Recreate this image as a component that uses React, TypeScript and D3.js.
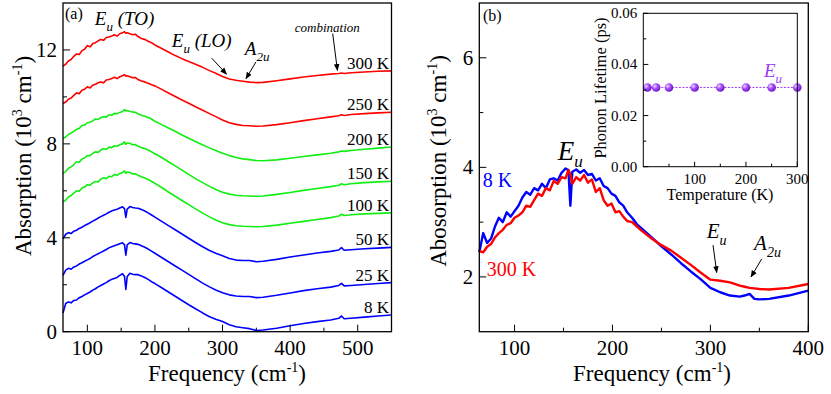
import React from 'react';
import * as d3 from 'd3';

// ---- panel (a): stacked spectra, absorption in 10^3 cm^-1 ----
const FREQ_A = [64, 68, 72, 76, 80, 84, 88, 92, 96, 100,
  104, 108, 112, 116, 120, 124, 128, 132, 136, 140,
  144, 148, 152, 155, 157, 159, 163, 167, 171, 175,
  180, 185, 190, 195, 200, 210, 220, 230, 240, 250,
  260, 270, 280, 290, 300, 310, 320, 330, 340, 350,
  360, 380, 400, 420, 440, 460, 472, 476, 480, 490,
  510, 530, 550];

const A_8K = [0.80, 1.20, 1.27, 1.23, 1.33, 1.35, 1.45, 1.50, 1.57, 1.63,
  1.69, 1.77, 1.83, 1.91, 1.97, 2.03, 2.09, 2.17, 2.23, 2.27,
  2.31, 2.40, 2.47, 2.35, 1.80, 2.35, 2.49, 2.45, 2.43, 2.43,
  2.37, 2.31, 2.23, 2.13, 2.05, 1.87, 1.69, 1.51, 1.33, 1.15,
  0.98, 0.81, 0.65, 0.53, 0.43, 0.30, 0.21, 0.17, 0.13, 0.05,
  0.07, 0.15, 0.25, 0.35, 0.43, 0.50, 0.57, 0.67, 0.55, 0.57,
  0.62, 0.67, 0.71];
const A_25K = [2.40, 2.62, 2.70, 2.66, 2.76, 2.80, 2.88, 2.94, 3.00, 3.06,
  3.12, 3.20, 3.26, 3.32, 3.38, 3.44, 3.50, 3.57, 3.62, 3.66,
  3.70, 3.75, 3.79, 3.70, 3.26, 3.70, 3.80, 3.76, 3.74, 3.72,
  3.66, 3.60, 3.52, 3.43, 3.34, 3.16, 2.98, 2.80, 2.62, 2.44,
  2.26, 2.08, 1.92, 1.78, 1.66, 1.57, 1.52, 1.50, 1.50, 1.45,
  1.47, 1.55, 1.65, 1.75, 1.83, 1.90, 1.97, 2.06, 1.95, 1.97,
  2.01, 2.05, 2.09];
const A_50K = [3.95, 4.15, 4.22, 4.18, 4.28, 4.32, 4.40, 4.45, 4.52, 4.58,
  4.64, 4.71, 4.77, 4.84, 4.90, 4.96, 5.02, 5.09, 5.14, 5.18,
  5.22, 5.27, 5.32, 5.24, 4.87, 5.22, 5.33, 5.29, 5.27, 5.26,
  5.20, 5.14, 5.06, 4.97, 4.88, 4.70, 4.52, 4.34, 4.16, 3.98,
  3.80, 3.63, 3.47, 3.34, 3.23, 3.12, 3.05, 3.03, 3.03, 2.98,
  3.00, 3.08, 3.18, 3.27, 3.35, 3.42, 3.48, 3.58, 3.47, 3.49,
  3.53, 3.56, 3.59];
const A_100K = [5.53, 5.60, 5.74, 5.80, 5.90, 6.00, 5.98, 6.12, 6.16, 6.26,
  6.24, 6.34, 6.40, 6.38, 6.50, 6.56, 6.52, 6.62, 6.60, 6.70,
  6.66, 6.74, 6.78, 6.85, 6.74, 6.80, 6.78, 6.72, 6.73, 6.66,
  6.60, 6.55, 6.48, 6.40, 6.32, 6.14, 5.95, 5.77, 5.59, 5.41,
  5.23, 5.06, 4.90, 4.76, 4.64, 4.56, 4.51, 4.49, 4.48, 4.47,
  4.48, 4.54, 4.62, 4.70, 4.78, 4.86, 4.93, 5.00, 4.95, 4.98,
  5.02, 5.04, 5.06];
const A_150K = [6.74, 6.82, 6.96, 7.02, 7.12, 7.24, 7.22, 7.36, 7.40, 7.50,
  7.50, 7.60, 7.66, 7.64, 7.74, 7.80, 7.76, 7.86, 7.84, 7.92,
  7.90, 7.96, 8.00, 8.09, 7.98, 8.04, 8.02, 7.96, 7.97, 7.90,
  7.84, 7.80, 7.74, 7.66, 7.58, 7.42, 7.24, 7.06, 6.88, 6.70,
  6.52, 6.36, 6.20, 6.06, 5.94, 5.86, 5.81, 5.79, 5.78, 5.77,
  5.78, 5.85, 5.93, 6.02, 6.10, 6.18, 6.24, 6.30, 6.26, 6.30,
  6.35, 6.38, 6.41];
const A_200K = [8.22, 8.30, 8.40, 8.46, 8.53, 8.62, 8.66, 8.78, 8.80, 8.90,
  8.92, 8.98, 9.06, 9.04, 9.12, 9.16, 9.14, 9.24, 9.22, 9.30,
  9.28, 9.34, 9.38, 9.46, 9.40, 9.42, 9.38, 9.36, 9.34, 9.28,
  9.22, 9.18, 9.12, 9.06, 8.96, 8.82, 8.68, 8.54, 8.38, 8.24,
  8.10, 7.96, 7.84, 7.72, 7.60, 7.50, 7.42, 7.36, 7.33, 7.29,
  7.28, 7.32, 7.39, 7.46, 7.53, 7.60, 7.66, 7.70, 7.68, 7.72,
  7.77, 7.82, 7.87];
const A_250K = [9.72, 9.78, 9.90, 9.95, 10.07, 10.17, 10.14, 10.28, 10.33, 10.43,
  10.38, 10.50, 10.54, 10.60, 10.64, 10.60, 10.72, 10.74, 10.78, 10.84,
  10.78, 10.86, 10.90, 10.95, 10.88, 10.90, 10.86, 10.82, 10.83, 10.74,
  10.68, 10.64, 10.58, 10.52, 10.47, 10.32, 10.17, 10.02, 9.87, 9.73,
  9.58, 9.44, 9.30, 9.16, 9.02, 8.90, 8.83, 8.78, 8.77, 8.75,
  8.76, 8.82, 8.90, 8.99, 9.07, 9.15, 9.20, 9.24, 9.21, 9.25,
  9.29, 9.32, 9.35];
const A_300K = [11.31, 11.39, 11.53, 11.59, 11.73, 11.83, 11.81, 11.97, 12.03, 12.19,
  12.13, 12.27, 12.31, 12.39, 12.45, 12.41, 12.53, 12.55, 12.59, 12.65,
  12.59, 12.69, 12.73, 12.78, 12.71, 12.73, 12.69, 12.65, 12.67, 12.57,
  12.49, 12.45, 12.37, 12.31, 12.21, 12.06, 11.91, 11.76, 11.63, 11.51,
  11.39, 11.27, 11.13, 11.01, 10.87, 10.76, 10.71, 10.67, 10.63, 10.61,
  10.62, 10.69, 10.77, 10.85, 10.91, 10.97, 11.00, 11.02, 11.00, 11.03,
  11.06, 11.09, 11.11];

const TEMP_LABELS_A = ['8 K', '25 K', '50 K', '100 K', '150 K', '200 K', '250 K', '300 K'];
const SERIES_A = [A_8K, A_25K, A_50K, A_100K, A_150K, A_200K, A_250K, A_300K];
const COLORS_A = ['#0000ff', '#0000ff', '#0000ff', '#11ee11', '#11ee11', '#11ee11', '#ff0000', '#ff0000'];

// ---- panel (b): 8 K vs 300 K ----
const FREQ_B = [64, 68, 72, 76, 80, 84, 88, 92, 96, 100,
  104, 108, 112, 116, 120, 124, 128, 132, 136, 140,
  144, 148, 152, 155, 157, 159, 163, 167, 171, 175,
  179, 183, 187, 191, 195, 199, 203, 207, 211, 215,
  220, 225, 230, 240, 250, 260, 270, 280, 290, 300,
  310, 320, 330, 335, 340, 345, 350, 360, 380, 400];
const B_8K = [2.45, 2.80, 2.62, 2.70, 2.92, 3.08, 3.00, 3.18, 3.10, 3.20,
  3.30, 3.45, 3.55, 3.50, 3.62, 3.58, 3.70, 3.62, 3.78, 3.80,
  3.76, 3.90, 3.98, 3.95, 3.30, 3.92, 3.96, 3.90, 3.95, 3.86,
  3.88, 3.76, 3.80, 3.66, 3.62, 3.52, 3.48, 3.36, 3.30, 3.18,
  3.08, 2.96, 2.88, 2.72, 2.56, 2.41, 2.25, 2.10, 1.96, 1.80,
  1.72, 1.66, 1.64, 1.66, 1.69, 1.60, 1.59, 1.60, 1.66, 1.75];
const B_300K = [2.47, 2.45, 2.55, 2.60, 2.72, 2.80, 2.86, 2.95, 2.98, 3.08,
  3.12, 3.18, 3.30, 3.28, 3.40, 3.52, 3.48, 3.62, 3.58, 3.75,
  3.70, 3.82, 3.80, 3.95, 3.88, 3.70, 3.82, 3.76, 3.86, 3.72,
  3.78, 3.55, 3.62, 3.40, 3.30, 3.34, 3.18, 3.20, 3.10, 3.02,
  3.00, 2.92, 2.84, 2.70, 2.58, 2.48, 2.35, 2.22, 2.08, 1.95,
  1.93, 1.90, 1.84, 1.82, 1.80, 1.79, 1.78, 1.77, 1.80, 1.87];

// ---- inset: phonon lifetime ----
const INSET_TEMP = [8, 25, 50, 100, 150, 200, 250, 300];
const INSET_LIFETIME = [0.031, 0.031, 0.031, 0.031, 0.031, 0.031, 0.031, 0.031];

const FONT = '"Liberation Serif", "Times New Roman", serif';

const xA = d3.scaleLinear().domain([64, 550]).range([63, 391.5]);
const yA = d3.scaleLinear().domain([0, 14]).range([331.7, 3]);
const xB = d3.scaleLinear().domain([64, 400]).range([479.3, 808.3]);
const yB = d3.scaleLinear().domain([1, 7]).range([331.7, 3]);
const xI = d3.scaleLinear().domain([0, 300]).range([643.3, 797.3]);
const yI = d3.scaleLinear().domain([0, 0.06]).range([166.7, 13.3]);

const path = (xs: number[], ys: number[], sx: any, sy: any) =>
  d3.line<number>().x((_, i) => sx(xs[i])).y((v) => sy(v))(ys) || '';

// arrows in data coords: [x1, y1, x2, y2]
const ARROWS_A = [[284, 11.65, 306, 10.97], [349.5, 11.49, 334.7, 10.78], [463, 12.7, 470, 11.13]];
const ARROWS_B = [[302.7, 2.58, 306.5, 2.08], [352.5, 2.33, 341.5, 2.0]];

function Axes({ sx, sy, xMajor, xMinor, yMajor, yMinor, yFmt, fs, major, minor, sw }: any) {
  const [x0, x1] = sx.range();
  const [y0, y1] = sy.range();
  return (
    <g>
      {xMajor.map((v: number) => (
        <g key={'xM' + v}>
          <line x1={sx(v)} x2={sx(v)} y1={y0} y2={y0 - major} stroke="#000" strokeWidth={1} />
          <text x={sx(v)} y={y0 + fs + 2} fontSize={fs} textAnchor="middle">{v}</text>
        </g>
      ))}
      {xMinor.map((v: number) => (
        <line key={'xm' + v} x1={sx(v)} x2={sx(v)} y1={y0} y2={y0 - minor} stroke="#000" strokeWidth={1} />
      ))}
      {yMajor.map((v: number) => (
        <g key={'yM' + v}>
          <line x1={x0} x2={x0 + major} y1={sy(v)} y2={sy(v)} stroke="#000" strokeWidth={1} />
          <text x={x0 - 6} y={sy(v) + fs * 0.33} fontSize={fs} textAnchor="end">{yFmt(v)}</text>
        </g>
      ))}
      {yMinor.map((v: number) => (
        <line key={'ym' + v} x1={x0} x2={x0 + minor} y1={sy(v)} y2={sy(v)} stroke="#000" strokeWidth={1} />
      ))}
      <rect x={x0} y={y1} width={x1 - x0} height={y0 - y1} fill="none" stroke="#000" strokeWidth={sw} />
    </g>
  );
}

export default function App() {
  return (
    <svg width={831} height={394} style={{ position: 'absolute', left: 0, top: 0, background: '#fff' }}
      fontFamily={FONT}>
      <defs>
        <marker id="arr" viewBox="0 0 10 10" refX="9" refY="5" markerWidth="7" markerHeight="7" orient="auto">
          <path d="M0,1 L10,5 L0,9 z" fill="#000" />
        </marker>
        <radialGradient id="ball" cx="0.35" cy="0.35" r="0.7">
          <stop offset="0" stopColor="#f0dcff" />
          <stop offset="0.45" stopColor="#a64dff" />
          <stop offset="1" stopColor="#6a12c4" />
        </radialGradient>
      </defs>

      {/* ===== panel (a) ===== */}
      <g>
        {SERIES_A.map((s, i) => (
          <path key={i} d={path(FREQ_A, s, xA, yA)} fill="none" stroke={COLORS_A[i]} strokeWidth={1.6}
            strokeLinejoin="round" />
        ))}
        {SERIES_A.map((s, i) => (
          <text key={'l' + i} x={389} y={yA(s[s.length - 1]) - 2} fontSize={17} textAnchor="end">
            {TEMP_LABELS_A[i]}
          </text>
        ))}
        <Axes sx={xA} sy={yA} xMajor={[100, 200, 300, 400, 500]} xMinor={[150, 250, 350, 450]}
          yMajor={[0, 4, 8, 12]} yMinor={[2, 6, 10]} yFmt={(v: number) => String(v)} fs={21}
          major={7} minor={4} sw={1.3} />
        <text x={65} y={19} fontSize={16}>(a)</text>
        <text x={xA(111)} y={yA(13.05)} fontSize={19} fontStyle="italic">
          E<tspan dy={6} fontSize={13}>u</tspan><tspan dy={-6}> (TO)</tspan>
        </text>
        <text x={xA(225)} y={yA(12.11)} fontSize={19} fontStyle="italic">
          E<tspan dy={6} fontSize={13}>u</tspan><tspan dy={-6}> (LO)</tspan>
        </text>
        <text x={xA(333)} y={yA(11.77)} fontSize={19} fontStyle="italic">
          A<tspan dy={6} fontSize={13}>2u</tspan>
        </text>
        <text x={xA(407)} y={yA(12.75)} fontSize={13} fontStyle="italic">combination</text>
        {ARROWS_A.map((a, i) => (
          <line key={'aa' + i} x1={xA(a[0])} y1={yA(a[1])} x2={xA(a[2])} y2={yA(a[3])} stroke="#000"
            strokeWidth={1} markerEnd="url(#arr)" />
        ))}
        <text transform="translate(31,156) rotate(-90)" fontSize={23} textAnchor="middle">
          Absorption (10<tspan dy={-9} fontSize={14}>3</tspan><tspan dy={9}> cm</tspan>
          <tspan dy={-9} fontSize={14}>-1</tspan><tspan dy={9}>)</tspan>
        </text>
        <text x={227} y={381} fontSize={23} textAnchor="middle">
          Frequency (cm<tspan dy={-9} fontSize={14}>-1</tspan><tspan dy={9}>)</tspan>
        </text>
      </g>

      {/* ===== panel (b) ===== */}
      <g>
        <path d={path(FREQ_B, B_8K, xB, yB)} fill="none" stroke="#0000ff" strokeWidth={2.4} strokeLinejoin="round" />
        <path d={path(FREQ_B, B_300K, xB, yB)} fill="none" stroke="#ff0000" strokeWidth={2.4} strokeLinejoin="round" />
        <Axes sx={xB} sy={yB} xMajor={[100, 200, 300, 400]} xMinor={[150, 250, 350]}
          yMajor={[2, 4, 6]} yMinor={[3, 5]} yFmt={(v: number) => String(v)} fs={21}
          major={7} minor={4} sw={1.3} />
        <text x={483} y={21} fontSize={16}>(b)</text>
        <text x={xB(144.2)} y={yB(4.13)} fontSize={27} fontStyle="italic">
          E<tspan dy={7} fontSize={17}>u</tspan>
        </text>
        <text x={xB(67.5)} y={yB(3.64)} fontSize={20} fill="#0000ff">8 K</text>
        <text x={xB(71.5)} y={yB(2.02)} fontSize={20} fill="#ff0000">300 K</text>
        <text x={xB(296.3)} y={yB(2.71)} fontSize={21} fontStyle="italic">
          E<tspan dy={7} fontSize={14}>u</tspan>
        </text>
        <text x={xB(344.6)} y={yB(2.49)} fontSize={21} fontStyle="italic">
          A<tspan dy={7} fontSize={14}>2u</tspan>
        </text>
        {ARROWS_B.map((a, i) => (
          <line key={'ab' + i} x1={xB(a[0])} y1={yB(a[1])} x2={xB(a[2])} y2={yB(a[3])} stroke="#000"
            strokeWidth={1} markerEnd="url(#arr)" />
        ))}
        <text transform="translate(446,161) rotate(-90)" fontSize={23} textAnchor="middle">
          Abosorption (10<tspan dy={-9} fontSize={14}>3</tspan><tspan dy={9}> cm</tspan>
          <tspan dy={-9} fontSize={14}>-1</tspan><tspan dy={9}>)</tspan>
        </text>
        <text x={652} y={381} fontSize={23} textAnchor="middle">
          Frequency (cm<tspan dy={-9} fontSize={14}>-1</tspan><tspan dy={9}>)</tspan>
        </text>
      </g>

      {/* ===== inset ===== */}
      <g>
        <rect x={xI(0)} y={yI(0.06)} width={xI(300) - xI(0)} height={yI(0) - yI(0.06)} fill="#fff" />
        <path d={path(INSET_TEMP, INSET_LIFETIME, xI, yI)} fill="none" stroke="#9b3cf0" strokeWidth={1}
          strokeDasharray="2,1.5" />
        {INSET_TEMP.map((t, i) => (
          <circle key={'p' + i} cx={xI(t)} cy={yI(INSET_LIFETIME[i])} r={4.3} fill="url(#ball)" />
        ))}
        <Axes sx={xI} sy={yI} xMajor={[100, 200, 300]} xMinor={[50, 150, 250]}
          yMajor={[0, 0.02, 0.04, 0.06]} yMinor={[0.01, 0.03, 0.05]} yFmt={(v: number) => v.toFixed(2)}
          fs={15} major={5} minor={3} sw={1} />
        <text x={xI(235)} y={yI(0.0351)} fontSize={19} fontStyle="italic" fill="#9b3cf0">
          E<tspan dy={6} fontSize={13}>u</tspan>
        </text>
        <text x={720} y={200} fontSize={16} textAnchor="middle">Temperature (K)</text>
        <text transform="translate(606,88) rotate(-90)" fontSize={16.5} textAnchor="middle">
          Phonon Lifetime (ps)
        </text>
      </g>
    </svg>
  );
}
